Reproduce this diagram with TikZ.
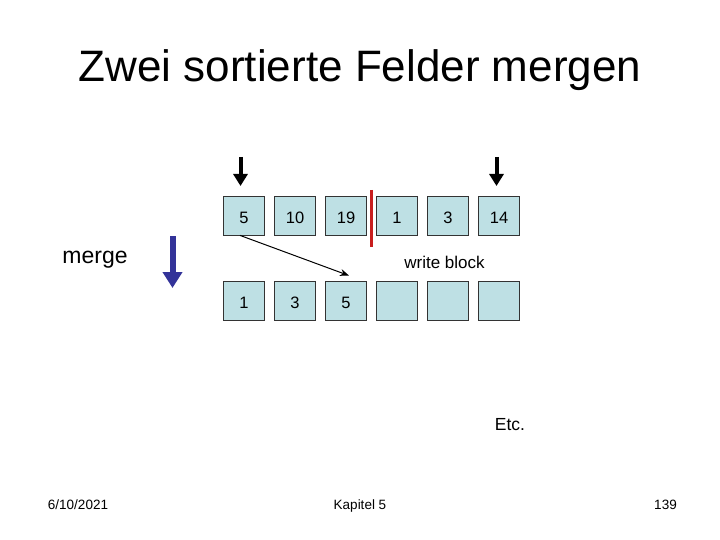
\documentclass[tikz,border=0pt]{standalone}
\usepackage{fontspec}
\setmainfont{Liberation Sans}
\usetikzlibrary{arrows.meta}
\definecolor{boxfill}{RGB}{190,224,228}
\definecolor{mergeblue}{RGB}{51,51,153}
\definecolor{splitred}{RGB}{200,30,30}
\begin{document}
\begin{tikzpicture}[x=1pt,y=-1pt,
  cell/.style={draw=black!80,line width=0.8pt,fill=boxfill,minimum width=41pt,minimum height=39pt,inner sep=0pt,text height=15pt,text depth=0pt,font=\fontsize{16.5}{19}\selectfont},
  ptr/.style={line width=4pt,-{Triangle[width=14pt,length=12pt]}},
  lbl/.style={inner sep=0pt,anchor=base}]
\useasboundingbox (0,0) rectangle (720,540);
\node[lbl,font=\fontsize{44}{52}\selectfont] (title) at (360,82) {Zwei sortierte Felder mergen};
% top row
\node[cell] (t1) at (244,215.5) {5};
\node[cell] (t2) at (295,215.5) {10};
\node[cell] (t3) at (346,215.5) {19};
\node[cell] (t4) at (397,215.5) {1};
\node[cell] (t5) at (448,215.5) {3};
\node[cell] (t6) at (499,215.5) {14};
% bottom row
\node[cell] (b1) at (244,300.5) {1};
\node[cell] (b2) at (295,300.5) {3};
\node[cell] (b3) at (346,300.5) {5};
\node[cell] (b4) at (397,300.5) {};
\node[cell] (b5) at (448,300.5) {};
\node[cell] (b6) at (499,300.5) {};
% red divider
\coordinate (r1) at (371,190);
\coordinate (r2) at (371,247);
\draw[splitred,line width=3pt] (r1) -- (r2);
% pointer arrows
\coordinate (p1a) at (240.5,157);
\coordinate (p1b) at (240.5,186);
\coordinate (p2a) at (496.5,157);
\coordinate (p2b) at (496.5,186);
\draw[ptr] (p1a) -- (p1b);
\draw[ptr] (p2a) -- (p2b);
% merge arrow
\coordinate (ma) at (172.5,236);
\coordinate (mb) at (172.5,288);
\draw[mergeblue,line width=6pt,-{Triangle[width=19pt,length=16pt]}] (ma) -- (mb);
\node[lbl,font=\fontsize{23}{27}\selectfont] (merge) at (95,263.5) {merge};
% move arrow
\coordinate (s1) at ([xshift=-4pt]t1.south);
\coordinate (s2) at ([yshift=5pt,xshift=3pt]b3.north);
\draw[line width=1pt,-{Stealth[width=7pt,length=9pt]}] (s1) -- (s2);
\node[lbl,font=\fontsize{17}{20}\selectfont] (wb) at (444.5,268.5) {write block};
\node[lbl,font=\fontsize{17.5}{20}\selectfont] (etc) at (510,430.5) {Etc.};
% footer
\node[lbl,font=\fontsize{13.5}{16}\selectfont] (date) at (78,509.3) {6/10/2021};
\node[lbl,font=\fontsize{13.5}{16}\selectfont] (kap) at (360,509.3) {Kapitel 5};
\node[lbl,font=\fontsize{13.5}{16}\selectfont] (page) at (665.5,509.3) {139};
\end{tikzpicture}
\end{document}
